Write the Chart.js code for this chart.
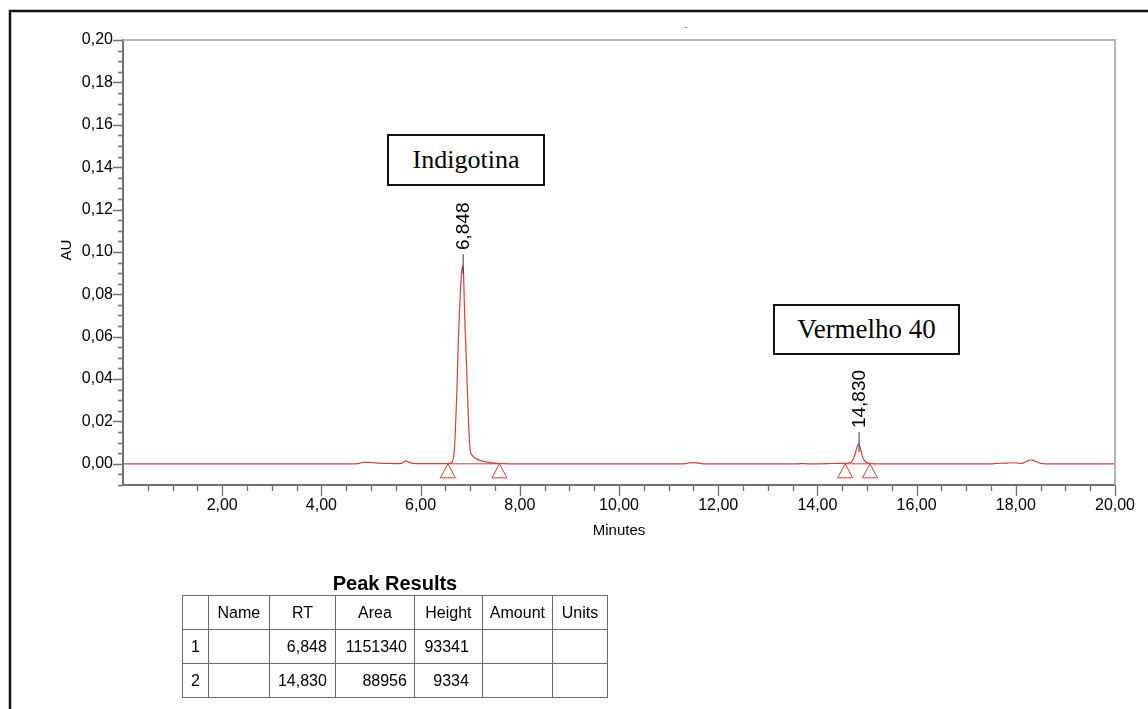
<!DOCTYPE html>
<html>
<head>
<meta charset="utf-8">
<script src="https://cdn.jsdelivr.net/npm/chart.js@4/dist/chart.umd.min.js"></script>
<style>
  body { margin: 0; background: #fff; }
  #wrap { position: relative; width: 1148px; height: 709px; overflow: hidden; }
  #grafico { position: absolute; left: 0; top: 0; }
  .caixa { position: absolute; box-sizing: border-box; border: 2px solid #111; background: #fff;
           font-family: "Liberation Serif", "Times New Roman", serif; font-size: 26px; color: #000;
           display: flex; align-items: center; justify-content: center; }
  #titulo { position: absolute; left: 295px; top: 571px; width: 200px; text-align: center;
            font: bold 20px "Liberation Sans", Arial, sans-serif; line-height: 24px; }
  #tabela { position: absolute; left: 182px; top: 595px; border-collapse: collapse; table-layout: fixed;
            font: 16px "Liberation Sans", Arial, sans-serif; color: #000; }
  #tabela td { border: 1px solid #6a6a6a; height: 33px; padding: 0 8px; white-space: nowrap; }
  #tabela tr.cab td { text-align: center; padding: 0 2px; }
</style>
</head>
<body>
<div id="wrap">
  <canvas id="grafico" width="1148" height="709"></canvas>
  <div class="caixa" style="left:387px; top:134px; width:158px; height:52px;">Indigotina</div>
  <div class="caixa" style="left:773px; top:304px; width:187px; height:51px; font-size:27px;">Vermelho 40</div>
  <div id="titulo">Peak Results</div>
  <table id="tabela"></table>
</div>
<script>
// cromatograma (minutos, AU)
const tempos = [0.00, 4.70, 4.78, 4.85, 4.95, 5.05, 5.15, 5.30, 5.50, 5.62, 5.70, 5.76, 5.85, 6.00, 6.30,
  6.55, 6.60, 6.63, 6.66, 6.68, 6.70, 6.73, 6.755, 6.78, 6.80, 6.825, 6.848, 6.865, 6.88, 6.90, 6.915,
  6.94, 6.97, 7.00, 7.04, 7.10, 7.20, 7.30, 7.40, 7.54, 7.65, 8.00, 11.30, 11.40, 11.50, 11.60, 11.70,
  13.60, 13.70, 13.80, 14.20, 14.40, 14.55, 14.62, 14.70, 14.76, 14.80, 14.83, 14.86, 14.90, 14.95,
  15.00, 15.06, 15.15, 17.50, 17.60, 17.80, 17.95, 18.05, 18.12, 18.22, 18.31, 18.40, 18.50, 18.60, 20.00];
const absorbancia = [0, 0, 0.0003, 0.0007, 0.0007, 0.0005, 0.0003, 0.0002, 0.0001, 0.0002, 0.0014, 0.0008, 0.0002, 0.0001, 0.0001,
  0.0001, 0.0003, 0.0007, 0.0025, 0.0066, 0.0150, 0.0330, 0.0540, 0.0700, 0.0800, 0.0900, 0.0933, 0.0900, 0.0770, 0.0620, 0.0540,
  0.0370, 0.0180, 0.0066, 0.0040, 0.0027, 0.0016, 0.0010, 0.0006, 0.0002, 0.0001, 0, 0, 0.0004, 0.0006, 0.0003, 0,
  0, 0.0001, 0, 0.0001, 0.0002, 0.0002, 0.0004, 0.0013, 0.0045, 0.0080, 0.0093, 0.0080, 0.0040, 0.0015,
  0.0006, 0.0002, 0, 0, 0.0002, 0.0003, 0.0005, 0.0003, 0.0002, 0.0012, 0.0018, 0.0011, 0.0002, 0, 0];

// picos integrados
const picoRT = [6.848, 14.830];
const picoAltura = [0.0933, 0.0093];
const picoInicio = [6.55, 14.56];
const picoFim = [7.59, 15.06];

// tabela Peak Results
const tabCabecalho = ['', 'Name', 'RT', 'Area', 'Height', 'Amount', 'Units'];
const tabNum = ['1', '2'];
const tabRT = ['6,848', '14,830'];
const tabArea = ['1151340', '88956'];
const tabHeight = ['93341', '9334'];

const vermelho = 'rgb(214, 62, 62)';
const fonte = '"Liberation Sans", Arial, sans-serif';
const virgula = (v, d) => v.toFixed(d).replace('.', ',');

// monta a tabela
const larguras = [24, 61, 66, 79, 68, 70, 55];
const padDir = [0, 0, 8, 7, 13, 0, 0];
let html = '<colgroup>' + larguras.map(w => `<col style="width:${w}px">`).join('') + '</colgroup>';
html += '<tr class="cab">' + tabCabecalho.map(t => `<td>${t}</td>`).join('') + '</tr>';
tabNum.forEach((n, i) => {
  const cel = [n, '', tabRT[i], tabArea[i], tabHeight[i], '', ''];
  html += '<tr>' + cel.map((t, j) => {
    const al = j === 0 ? 'left' : 'right';
    const pr = padDir[j] ? `padding-right:${padDir[j]}px;` : '';
    return `<td style="text-align:${al};${pr}">${t}</td>`;
  }).join('') + '</tr>';
});
document.getElementById('tabela').innerHTML = html;

// moldura, bordas e marcas
const moldura = {
  id: 'moldura',
  beforeDraw(chart) {
    const ctx = chart.ctx;
    ctx.save();
    ctx.strokeStyle = '#111';
    ctx.lineWidth = 2.5;
    ctx.beginPath();
    ctx.moveTo(10, 712); ctx.lineTo(10, 11); ctx.lineTo(1150, 11);
    ctx.stroke();
    // pequeno traço no topo
    ctx.fillStyle = '#777';
    ctx.font = '10px ' + fonte;
    ctx.textAlign = 'center';
    ctx.fillText('-', 686, 30);
    ctx.restore();
  },
  afterDraw(chart) {
    const {ctx, chartArea: a, scales: {x, y}} = chart;
    ctx.save();
    // borda superior e direita
    ctx.strokeStyle = '#b4b4b4';
    ctx.lineWidth = 2;
    ctx.beginPath();
    ctx.moveTo(a.left, a.top); ctx.lineTo(a.right, a.top); ctx.lineTo(a.right, a.bottom);
    ctx.stroke();
    // ticks
    ctx.strokeStyle = '#707070';
    ctx.lineWidth = 1.3;
    ctx.beginPath();
    y.ticks.forEach(t => {
      const py = Math.round(y.getPixelForValue(t.value)) + 0.5;
      const maior = Math.abs(Math.round(t.value * 1000) % 20) === 0;
      ctx.moveTo(a.left, py); ctx.lineTo(a.left - (maior ? 10 : 5), py);
    });
    x.ticks.forEach(t => {
      if (t.value <= 0) return;
      const px = Math.round(x.getPixelForValue(t.value)) + 0.5;
      const maior = Math.abs(t.value / 2 - Math.round(t.value / 2)) < 1e-9;
      ctx.moveTo(px, a.bottom + 1); ctx.lineTo(px, a.bottom + (maior ? 11 : 6));
    });
    ctx.stroke();
    // títulos dos eixos
    ctx.fillStyle = '#000';
    ctx.font = '15px ' + fonte;
    ctx.textAlign = 'center';
    ctx.textBaseline = 'middle';
    ctx.fillText('Minutes', (a.left + a.right) / 2, 531);
    ctx.translate(67, 250);
    ctx.rotate(-Math.PI / 2);
    ctx.fillText('AU', 0, 0);
    ctx.restore();
  },
  afterDatasetsDraw(chart) {
    const {ctx, scales: {x, y}} = chart;
    ctx.save();
    // triângulos de início/fim de integração
    const base = y.getPixelForValue(0);
    ctx.strokeStyle = vermelho;
    ctx.lineWidth = 1;
    picoInicio.concat(picoFim).forEach(t => {
      const px = x.getPixelForValue(t);
      ctx.beginPath();
      ctx.moveTo(px, base);
      ctx.lineTo(px + 7.5, base + 14);
      ctx.lineTo(px - 7.5, base + 14);
      ctx.closePath();
      ctx.stroke();
    });
    // rótulos dos picos
    picoRT.forEach((rt, i) => {
      const px = x.getPixelForValue(rt);
      const py = y.getPixelForValue(picoAltura[i]);
      ctx.strokeStyle = '#333';
      ctx.beginPath();
      ctx.moveTo(px + 0.5, py - 12); ctx.lineTo(px + 0.5, py + 8);
      ctx.stroke();
      ctx.save();
      ctx.translate(px, py - 16);
      ctx.rotate(-Math.PI / 2);
      ctx.fillStyle = '#000';
      ctx.font = '19px ' + fonte;
      ctx.textAlign = 'left';
      ctx.textBaseline = 'middle';
      ctx.fillText(virgula(rt, 3), 0, 1);
      ctx.restore();
    });
    ctx.restore();
  }
};

const pontos = tempos.map((t, i) => ({x: t, y: absorbancia[i]}));
const linhasBase = picoInicio.map((t, i) => ({
  data: [{x: t, y: 0}, {x: picoFim[i], y: 0}],
  borderColor: vermelho, borderWidth: 1, pointRadius: 0
}));

const ctx = document.getElementById('grafico').getContext('2d');
new Chart(ctx, {
  type: 'line',
  data: {
    datasets: [{
      data: pontos,
      borderColor: vermelho,
      borderWidth: 1.2,
      pointRadius: 0,
      cubicInterpolationMode: 'monotone'
    }, ...linhasBase]
  },
  options: {
    responsive: false,
    animation: false,
    layout: {padding: {left: 0, top: 40, right: 33, bottom: 164}},
    plugins: {legend: {display: false}, tooltip: {enabled: false}},
    scales: {
      x: {
        type: 'linear', min: 0, max: 20,
        afterFit: s => { s.height = 60; },
        grid: {display: false, drawTicks: false, tickLength: 0},
        border: {color: '#707070', width: 2},
        ticks: {
          stepSize: 0.5, autoSkip: false, maxRotation: 0, padding: 11,
          color: '#000', font: {family: fonte, size: 16},
          callback: v => (v >= 2 && Math.abs(v / 2 - Math.round(v / 2)) < 1e-9) ? virgula(v, 2) : ''
        }
      },
      y: {
        type: 'linear', min: -0.01, max: 0.20,
        afterFit: s => { s.width = 123; },
        grid: {display: false, drawTicks: false, tickLength: 0},
        border: {color: '#707070', width: 2},
        ticks: {
          stepSize: 0.005, autoSkip: false, padding: 10,
          color: '#000', font: {family: fonte, size: 16},
          callback: v => (v >= 0 && Math.abs(Math.round(v * 1000) % 20) === 0) ? virgula(v, 2) : ''
        }
      }
    }
  },
  plugins: [moldura]
});
</script>
</body>
</html>
